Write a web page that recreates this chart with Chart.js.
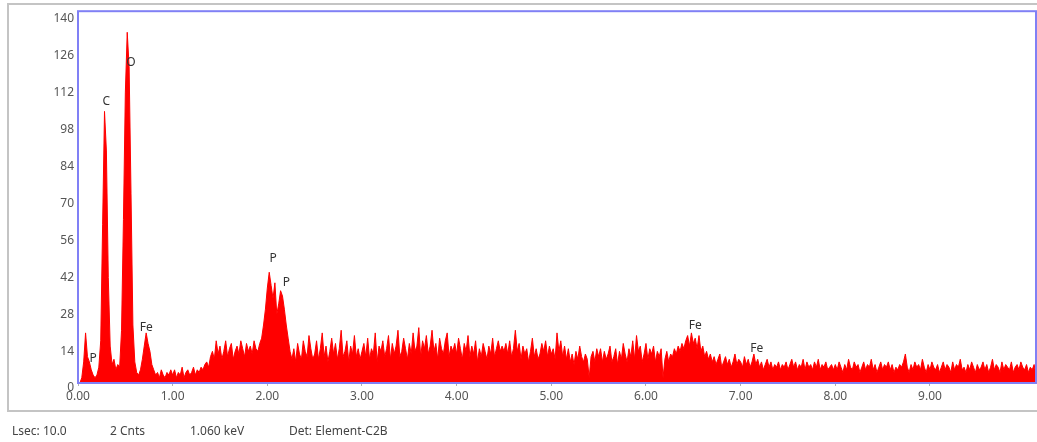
<!DOCTYPE html>
<html>
<head>
<meta charset="utf-8">
<script src="https://cdn.jsdelivr.net/npm/chart.js@4.4.1/dist/chart.umd.min.js"></script>
<style>
  html, body { margin: 0; padding: 0; background: #fff; }
  canvas { display: block; }
</style>
</head>
<body>
<canvas id="myChart" width="1037" height="442"></canvas>
<script>
// channel width in keV, counts per channel from 0.00 keV
var channelStep = 0.02;
var counts = [
  0,0,2,8,19,10,8,5,3,2,3,6,16,60,103,88,40,14,7,9,5,7,6,20,62,
  110,133,120,72,22,8,4,3,5,9,14,19,15,12,7,5,3,4,2,5,3,2,4,3,5,
  3,5,2,4,3,6,2,4,5,3,4,6,3,5,4,6,5,7,8,6,10,12,9,16,11,
  14,9,12,16,10,13,15,9,12,14,11,16,13,10,15,12,14,11,16,13,12,15,17,22,28,
  36,42,37,32,38,26,30,35,33,28,22,17,12,9,13,8,15,11,9,16,12,10,18,13,9,
  11,16,9,13,19,10,14,8,12,17,11,15,9,13,20,10,12,16,8,14,11,18,10,13,9,
  12,15,10,17,9,13,11,19,8,14,12,16,10,13,18,9,15,11,14,20,10,12,17,13,9,
  15,11,19,12,14,21,10,16,13,18,11,14,20,12,15,9,17,13,11,16,19,10,14,12,15,
  11,17,13,9,15,12,18,10,14,11,16,8,13,10,15,12,9,14,11,17,10,13,16,12,14,
  12,15,11,16,10,13,20,12,15,9,14,11,13,8,12,17,10,13,9,11,15,12,16,10,14,
  11,13,9,19,12,16,10,14,9,13,8,11,7,12,9,14,10,8,11,9,2,10,12,8,13,
  10,13,8,12,9,11,14,8,10,13,7,12,9,15,11,8,13,10,16,9,18,12,14,8,11,
  15,9,13,11,14,8,12,10,13,2,9,12,8,11,10,13,11,14,12,15,13,16,18,14,19,
  15,17,13,18,12,14,10,12,9,11,8,10,7,9,11,6,8,10,7,9,6,8,11,7,9,
  8,6,10,7,9,6,8,11,7,9,6,8,5,7,9,6,8,5,7,6,8,5,7,6,8,
  5,7,9,6,8,5,7,6,9,5,8,6,7,5,8,6,9,5,7,6,8,5,6,7,5,
  7,5,8,6,4,7,5,9,6,5,8,6,7,4,6,8,5,7,6,9,5,7,4,6,8,
  5,7,6,8,5,7,4,6,5,7,6,8,11,6,4,7,5,8,6,7,5,9,6,4,7,
  5,8,6,5,7,4,6,8,5,7,6,4,8,5,7,6,9,5,6,4,7,5,8,6,4,
  7,5,6,8,5,7,4,6,9,5,7,6,4,8,5,7,6,5,8,4,6,7,5,8,6,
  5,7,4,6,5,7,3
];

// peak labels
var peakNames  = ['P', 'C', 'O', 'Fe', 'P', 'P', 'Fe', 'Fe'];
var peakEnergy = [0.16, 0.30, 0.56, 0.72, 2.06, 2.20, 6.52, 7.17];
var peakLabelY = [9.4, 106.6, 121.6, 21, 47, 38, 21.8, 13.1];

var yTicks = [0, 14, 28, 42, 56, 70, 84, 98, 112, 126, 140];
var xTicks = [0, 1, 2, 3, 4, 5, 6, 7, 8, 9];

var footerTexts = ['Lsec: 10.0', '2 Cnts', '1.060 keV', 'Det: Element-C2B'];
var footerX = [12, 110, 190, 289];

var points = [];
for (var i = 0; i < counts.length; i++) {
    points.push({ x: i * channelStep, y: counts[i] });
}

var spectrumDecor = {
    id: 'spectrumDecor',
    beforeDraw: function (chart) {
        var ctx = chart.ctx;
        ctx.save();
        ctx.fillStyle = '#fff';
        ctx.fillRect(0, 0, chart.width, chart.height);
        // grey outer frame
        ctx.strokeStyle = '#c4c4c4';
        ctx.lineWidth = 2;
        ctx.strokeRect(8, 4, 1040, 407);
        ctx.restore();
    },
    afterDraw: function (chart) {
        var ctx = chart.ctx;
        var a = chart.chartArea;
        var xs = chart.scales.x, ys = chart.scales.y;
        ctx.save();
        ctx.strokeStyle = 'rgb(128,128,245)';
        ctx.lineWidth = 2;
        ctx.strokeRect(a.left, a.top, a.right - a.left, a.bottom - a.top);

        ctx.fillStyle = '#333';
        ctx.font = '12px "Noto Sans", "DejaVu Sans", sans-serif';
        ctx.textAlign = 'center';
        ctx.textBaseline = 'middle';
        for (var i = 0; i < peakNames.length; i++) {
            ctx.fillText(peakNames[i], xs.getPixelForValue(peakEnergy[i]), ys.getPixelForValue(peakLabelY[i]));
        }

        ctx.fillStyle = '#444';
        ctx.textAlign = 'left';
        for (var j = 0; j < footerTexts.length; j++) {
            ctx.fillText(footerTexts[j], footerX[j], 432);
        }
        ctx.restore();
    }
};

var ctx = document.getElementById('myChart').getContext('2d');
var myChart = new Chart(ctx, {
    type: 'line',
    data: {
        datasets: [{
            label: 'Spectrum',
            data: points,
            fill: 'origin',
            backgroundColor: 'rgb(255,0,0)',
            borderColor: 'rgb(255,0,0)',
            borderWidth: 1,
            pointRadius: 0,
            tension: 0
        }]
    },
    options: {
        responsive: false,
        animation: false,
        devicePixelRatio: 1,
        layout: { padding: { top: 7, right: 1, left: 0, bottom: 0 } },
        plugins: {
            legend: { display: false },
            tooltip: { enabled: false }
        },
        scales: {
            x: {
                type: 'linear',
                min: 0,
                max: 10.12,
                afterBuildTicks: function (scale) {
                    scale.ticks = xTicks.map(function (v) { return { value: v }; });
                },
                afterFit: function (scale) { scale.height = 59; },
                border: { display: false },
                grid: { drawOnChartArea: false, drawTicks: true, tickLength: 3, color: '#b0b0b0' },
                ticks: {
                    padding: 3,
                    maxRotation: 0,
                    autoSkip: false,
                    color: '#555',
                    font: { family: '"Noto Sans", "DejaVu Sans", sans-serif', size: 12 },
                    callback: function (v) { return Number(v).toFixed(2); }
                }
            },
            y: {
                min: 0,
                max: 141,
                afterBuildTicks: function (scale) {
                    scale.ticks = yTicks.map(function (v) { return { value: v }; });
                },
                afterFit: function (scale) { scale.width = 78; },
                border: { display: false },
                grid: { display: false, drawTicks: false },
                ticks: {
                    padding: 4,
                    labelOffset: 5,
                    autoSkip: false,
                    color: '#555',
                    font: { family: '"Noto Sans", "DejaVu Sans", sans-serif', size: 12 }
                }
            }
        }
    },
    plugins: [spectrumDecor]
});
</script>
</body>
</html>
